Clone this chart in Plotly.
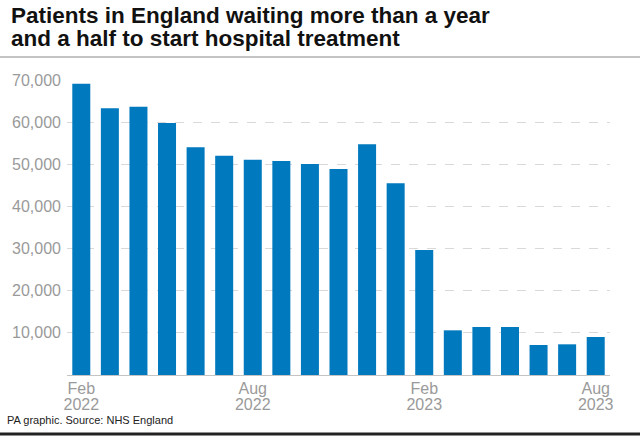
import plotly.graph_objects as go

months = ["Feb 2022", "Mar 2022", "Apr 2022", "May 2022", "Jun 2022", "Jul 2022",
          "Aug 2022", "Sep 2022", "Oct 2022", "Nov 2022", "Dec 2022", "Jan 2023",
          "Feb 2023", "Mar 2023", "Apr 2023", "May 2023", "Jun 2023", "Jul 2023",
          "Aug 2023"]
patients = [69120, 63290, 63670, 59800, 54020, 52050, 51100, 50780, 50070, 48880,
            54740, 45480, 29660, 10600, 11390, 11390, 7120, 7280, 9020]
tick_months = ["Feb 2022", "Aug 2022", "Feb 2023", "Aug 2023"]
tick_month_names = ["Feb", "Aug", "Feb", "Aug"]
tick_years = ["2022", "2022", "2023", "2023"]
y_ticks = [10000, 20000, 30000, 40000, 50000, 60000, 70000]

title_lines = ["Patients in England waiting more than a year",
               "and a half to start hospital treatment"]
source_text = "PA graphic. Source: NHS England"

W, H = 640, 437
L, R, T, B = 67, 30, 80, 62
PW, PH = W - L - R, H - T - B


def px_x(x):
    return (x - L) / PW


def px_y(y):
    return (H - B - y) / PH


span = "<span style='font-size:16px'>{}</span>"
tick_text = [span.format(m) + "<br>" + span.format(y)
             for m, y in zip(tick_month_names, tick_years)]

fig = go.Figure()
fig.add_trace(go.Bar(x=months, y=patients, marker_color="#0079be",
                     marker_line_width=0, width=0.63))

fig.update_layout(
    width=W, height=H,
    margin=dict(l=L, r=R, t=T, b=B),
    paper_bgcolor="white", plot_bgcolor="white",
    showlegend=False,
    font=dict(family="Liberation Sans, Arial, sans-serif", size=16, color="#9a9a9a"),
)
fig.update_xaxes(
    type="category", tickmode="array", tickvals=tick_months, ticktext=tick_text,
    showgrid=False, showline=True, linecolor="#c4c4c4", linewidth=1,
    ticks="", tickfont=dict(size=12.5, color="#9a9a9a"), ticklabelstandoff=3,
    range=[-0.5, 18.5], automargin=False,
)
fig.update_yaxes(
    range=[0, 70000], tickvals=y_ticks, tickformat=",d",
    showgrid=True, gridcolor="#d9d9d9", griddash="dash", gridwidth=1,
    zeroline=False, showline=False, ticks="", ticklabelstandoff=5,
    tickfont=dict(size=16, color="#9a9a9a"), automargin=False,
)

for i, line in enumerate(title_lines):
    fig.add_annotation(
        text=line, xref="paper", yref="paper",
        x=px_x(9), y=px_y(25 + 23 * i), xanchor="left", yanchor="bottom",
        showarrow=False, align="left", yshift=-5,
        font=dict(family="Liberation Sans, Arial, sans-serif", size=22.5,
                  color="#111111", weight="bold"),
    )
fig.add_annotation(
    text=source_text, xref="paper", yref="paper",
    x=px_x(5), y=px_y(425), xanchor="left", yanchor="bottom", yshift=-3,
    showarrow=False, align="left",
    font=dict(family="Liberation Sans, Arial, sans-serif", size=11, color="#222222"),
)
fig.add_shape(type="line", xref="paper", yref="paper", x0=px_x(0), x1=px_x(W),
              y0=px_y(57), y1=px_y(57), line=dict(color="#888888", width=1))
fig.add_shape(type="line", xref="paper", yref="paper", x0=px_x(0), x1=px_x(W),
              y0=px_y(434), y1=px_y(434), line=dict(color="#222222", width=3))

fig.write_html("out.html", config={"displayModeBar": False},
               post_script="document.body.style.margin='0';")
